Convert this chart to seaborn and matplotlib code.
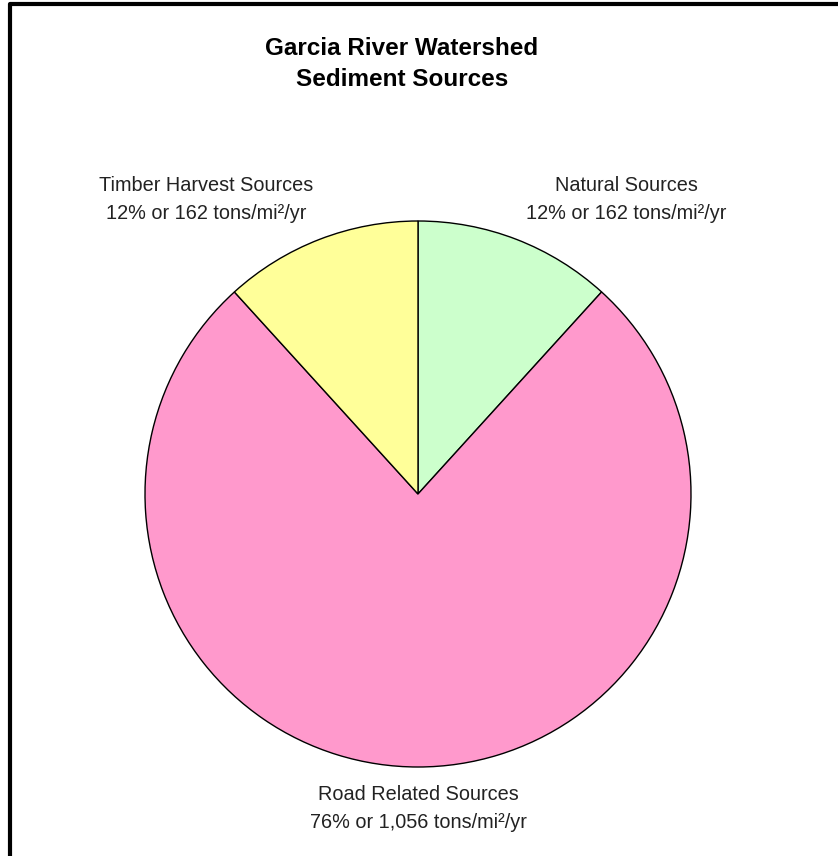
import matplotlib.pyplot as plt
import seaborn as sns

# Daten: Sedimentquellen
sources = ["Natural Sources", "Road Related Sources", "Timber Harvest Sources"]
tons = [162, 1056, 162]
shares = [12, 76, 12]
colors = ["#CCFFCC", "#FF99CC", "#FFFF99"]

sns.set_theme(style="white")
plt.rcParams['font.family'] = ['Liberation Sans', 'DejaVu Sans']

fig = plt.figure(figsize=(8.38, 8.56), dpi=100)
ax = fig.add_axes([0, 0, 1, 1])

ax.pie(tons, colors=colors, startangle=90, counterclock=False,
       center=(418, 362), radius=273,
       wedgeprops=dict(edgecolor='black', linewidth=1))
ax.set_xlim(0, 838)
ax.set_ylim(0, 856)
ax.set_aspect('auto')
ax.axis('off')

# Rahmen (links und oben)
ax.plot([10, 10, 838], [0, 852, 852], color='black', lw=3, clip_on=False)

ax.text(402, 792, "Garcia River Watershed\nSediment Sources", ha='center', va='center',
        fontsize=17.5, fontweight='bold', linespacing=1.45, color='black')

label_pos = {
    "Natural Sources": (626, 657),
    "Road Related Sources": (418, 47),
    "Timber Harvest Sources": (206, 657),
}
for name, pct, t in zip(sources, shares, tons):
    x, y = label_pos[name]
    ax.text(x, y, f"{name}\n{pct}% or {t:,} tons/mi²/yr", ha='center', va='center',
            fontsize=14.3, color='#222222', linespacing=1.6)

plt.savefig('out.png', dpi=100)
